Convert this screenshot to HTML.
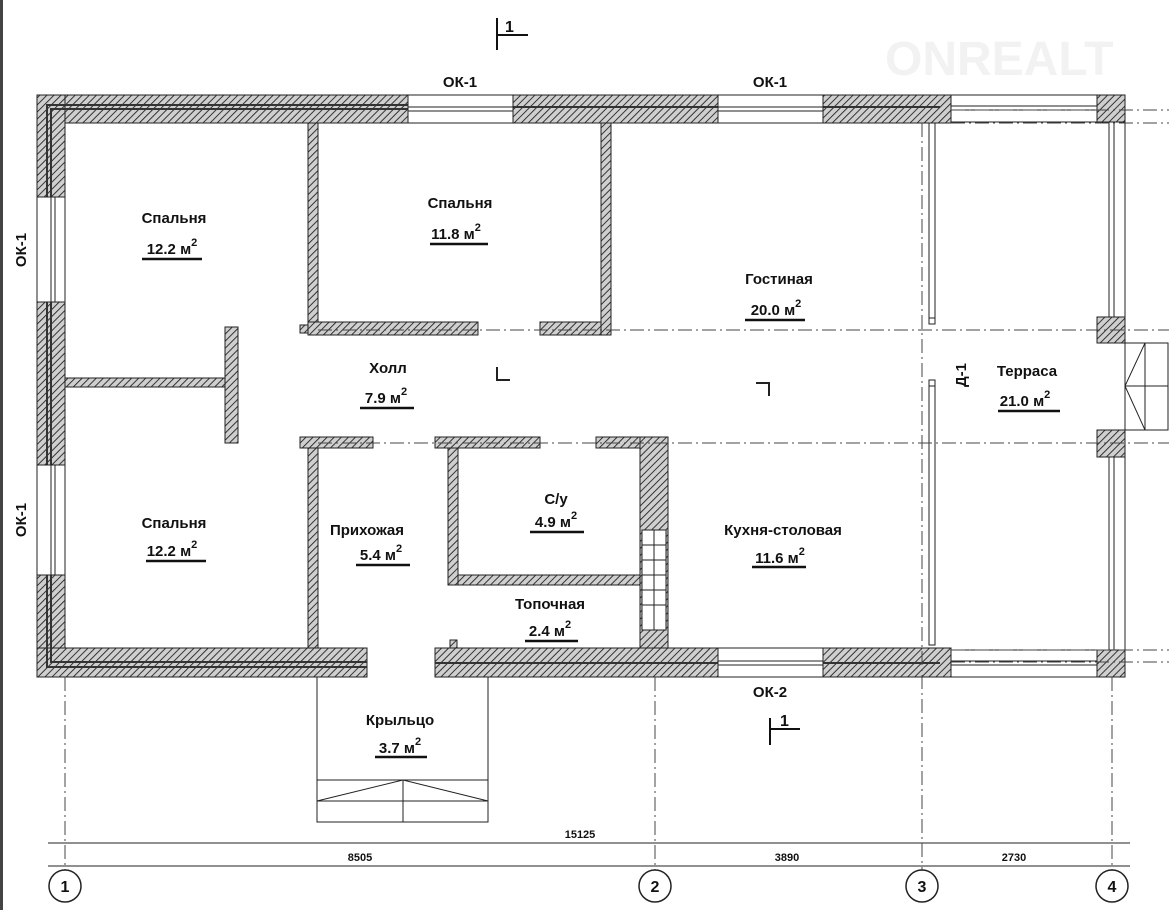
<!DOCTYPE html>
<html><head><meta charset="utf-8"><style>
body{margin:0;background:#fff}
svg{display:block}
text{font-family:"Liberation Sans",sans-serif;font-weight:bold;fill:#111}
</style></head><body>
<svg width="1169" height="910" viewBox="0 0 1169 910" xmlns="http://www.w3.org/2000/svg">
<defs>
<pattern id="h" width="5" height="5" patternUnits="userSpaceOnUse" patternTransform="rotate(45)">
<rect width="5" height="5" fill="#cfcfcf"/><line x1="0" y1="0" x2="0" y2="5" stroke="#222" stroke-width="1.8"/></pattern>
</defs>
<rect x="0" y="0" width="3" height="910" fill="#444"/>
<text x="885" y="75" font-size="48" style="fill:#f2f2f2">ONREALT</text>
<g stroke="#222" stroke-width="1">
<g fill="url(#h)">
<rect x="37" y="95" width="371" height="28"/>
<rect x="513" y="95" width="205" height="28"/>
<rect x="823" y="95" width="128" height="28"/>
<rect x="37" y="95" width="28" height="102"/>
<rect x="37" y="302" width="28" height="163"/>
<rect x="37" y="575" width="28" height="102"/>
<rect x="37" y="648" width="330" height="29"/>
<rect x="435" y="648" width="283" height="29"/>
<rect x="823" y="648" width="128" height="29"/>
<rect x="308" y="123" width="10" height="212"/>
<rect x="308" y="322" width="170" height="13"/>
<rect x="300" y="325" width="8" height="8"/>
<rect x="540" y="322" width="71" height="13"/>
<rect x="601" y="123" width="10" height="212"/>
<rect x="65" y="378" width="160" height="9"/>
<rect x="225" y="327" width="13" height="116"/>
<rect x="300" y="437" width="73" height="11"/>
<rect x="435" y="437" width="105" height="11"/>
<rect x="596" y="437" width="72" height="11"/>
<rect x="308" y="448" width="10" height="200"/>
<rect x="448" y="448" width="10" height="137"/>
<rect x="458" y="575" width="182" height="10"/>
<rect x="640" y="437" width="28" height="211"/>
<rect x="450" y="640" width="7" height="8"/>
<rect x="1097" y="95" width="28" height="27"/>
<rect x="1097" y="317" width="28" height="26"/>
<rect x="1097" y="430" width="28" height="27"/>
<rect x="1097" y="650" width="28" height="27"/>
</g>
<!-- wall layer lines -->
<g fill="none" stroke="#333" stroke-width="2">
<polyline points="408,105 47,105 47,197"/><polyline points="408,109 51,109 51,197"/>
<line x1="513" y1="107" x2="718" y2="107"/><line x1="823" y1="107" x2="940" y2="107"/>
<line x1="47" y1="302" x2="47" y2="465"/><line x1="51" y1="302" x2="51" y2="465"/>
<polyline points="47,575 47,667 367,667"/><polyline points="51,575 51,662 367,662"/>
<line x1="435" y1="663" x2="718" y2="663"/><line x1="823" y1="663" x2="940" y2="663"/>
</g>
<g fill="#fff"><rect x="642" y="530" width="24" height="100"/></g>
<g fill="none">
<line x1="642" y1="545" x2="666" y2="545"/><line x1="642" y1="560" x2="666" y2="560"/><line x1="642" y1="575" x2="666" y2="575"/><line x1="642" y1="590" x2="666" y2="590"/><line x1="642" y1="605" x2="666" y2="605"/>
<line x1="654" y1="530" x2="654" y2="630"/>
<rect x="408" y="95" width="105" height="28"/><line x1="408" y1="107" x2="513" y2="107"/><line x1="408" y1="111" x2="513" y2="111"/>
<rect x="718" y="95" width="105" height="28"/><line x1="718" y1="107" x2="823" y2="107"/><line x1="718" y1="111" x2="823" y2="111"/>
<rect x="37" y="197" width="28" height="105"/><line x1="51" y1="197" x2="51" y2="302"/><line x1="55" y1="197" x2="55" y2="302"/>
<rect x="37" y="465" width="28" height="110"/><line x1="51" y1="465" x2="51" y2="575"/><line x1="55" y1="465" x2="55" y2="575"/>
<rect x="718" y="648" width="105" height="29"/><line x1="718" y1="661" x2="823" y2="661"/><line x1="718" y1="665" x2="823" y2="665"/>
<rect x="951" y="95" width="146" height="27"/><line x1="951" y1="106" x2="1097" y2="106"/><line x1="951" y1="110" x2="1097" y2="110"/>
<rect x="951" y="650" width="146" height="27"/><line x1="951" y1="661" x2="1097" y2="661"/><line x1="951" y1="665" x2="1097" y2="665"/>
<line x1="1125" y1="122" x2="1125" y2="650"/>
<rect x="1109" y="122" width="5" height="195"/><rect x="1109" y="457" width="5" height="193"/>
<rect x="929" y="123" width="6" height="195"/><rect x="929" y="318" width="6" height="6"/>
<rect x="929" y="380" width="6" height="265"/><rect x="929" y="380" width="6" height="6"/>
<rect x="1125" y="343" width="43" height="87"/><line x1="1125" y1="386" x2="1168" y2="386"/><line x1="1145" y1="343" x2="1145" y2="430"/>
<polyline points="1145,343 1125,386 1145,430"/>
<polyline points="317,677 317,822 488,822 488,677"/>
<line x1="317" y1="780" x2="488" y2="780"/><line x1="317" y1="801" x2="488" y2="801"/>
<line x1="403" y1="780" x2="403" y2="822"/>
<polyline points="317,801 403,780 488,801"/>
<polyline points="497,367 497,380 510,380" stroke-width="2"/>
<polyline points="756,383 769,383 769,396" stroke-width="2"/>
<line x1="48" y1="843" x2="1130" y2="843"/>
<line x1="48" y1="866" x2="1130" y2="866"/>
</g>
</g>
<g stroke="#444" stroke-width="1" stroke-dasharray="14,4,2,4" fill="none">
<line x1="65" y1="677" x2="65" y2="872"/>
<line x1="655" y1="677" x2="655" y2="872"/>
<line x1="922" y1="123" x2="922" y2="872"/>
<line x1="1112" y1="677" x2="1112" y2="872"/>
<line x1="951" y1="110" x2="1169" y2="110"/>
<line x1="951" y1="123" x2="1169" y2="123"/>
<line x1="318" y1="330" x2="1169" y2="330"/>
<line x1="318" y1="443" x2="1169" y2="443"/>
<line x1="951" y1="650" x2="1169" y2="650"/>
<line x1="951" y1="662" x2="1169" y2="662"/>
</g>
<g stroke="#222" stroke-width="1.5" fill="#fff">
<circle cx="65" cy="886" r="16"/><circle cx="655" cy="886" r="16"/><circle cx="922" cy="886" r="16"/><circle cx="1112" cy="886" r="16"/>
</g>
<g font-size="16" text-anchor="middle">
<text x="65" y="892">1</text><text x="655" y="892">2</text><text x="922" y="892">3</text><text x="1112" y="892">4</text>
</g>
<g font-size="11" text-anchor="middle">
<text x="580" y="838">15125</text><text x="360" y="861">8505</text><text x="787" y="861">3890</text><text x="1014" y="861">2730</text>
</g>
<g stroke="#111" stroke-width="2" fill="none">
<line x1="497" y1="18" x2="497" y2="50"/><line x1="497" y1="35" x2="528" y2="35"/>
<line x1="770" y1="718" x2="770" y2="745"/><line x1="770" y1="729" x2="800" y2="729"/>
</g>
<text x="505" y="32" font-size="16">1</text>
<text x="780" y="726" font-size="16">1</text>
<g font-size="15" text-anchor="middle">
<text x="460" y="87">ОК-1</text><text x="770" y="87">ОК-1</text><text x="770" y="697">ОК-2</text>
<text transform="translate(26,250) rotate(-90)">ОК-1</text>
<text transform="translate(26,520) rotate(-90)">ОК-1</text>
<text transform="translate(966,375) rotate(-90)">Д-1</text>
</g>
<g font-size="15" text-anchor="middle">
<text x="174" y="223">Спальня</text>
<text x="460" y="208">Спальня</text>
<text x="779" y="284">Гостиная</text>
<text x="388" y="373">Холл</text>
<text x="1027" y="376">Терраса</text>
<text x="174" y="528">Спальня</text>
<text x="556" y="504">С/у</text>
<text x="367" y="535">Прихожая</text>
<text x="783" y="535">Кухня-столовая</text>
<text x="550" y="609">Топочная</text>
<text x="400" y="725">Крыльцо</text>
</g>
<g font-size="15" text-anchor="middle">
<text x="172" y="254">12.2 м<tspan font-size="11" dy="-8">2</tspan></text>
<text x="456" y="239">11.8 м<tspan font-size="11" dy="-8">2</tspan></text>
<text x="776" y="315">20.0 м<tspan font-size="11" dy="-8">2</tspan></text>
<text x="386" y="403">7.9 м<tspan font-size="11" dy="-8">2</tspan></text>
<text x="1025" y="406">21.0 м<tspan font-size="11" dy="-8">2</tspan></text>
<text x="172" y="556">12.2 м<tspan font-size="11" dy="-8">2</tspan></text>
<text x="556" y="527">4.9 м<tspan font-size="11" dy="-8">2</tspan></text>
<text x="381" y="560">5.4 м<tspan font-size="11" dy="-8">2</tspan></text>
<text x="780" y="563">11.6 м<tspan font-size="11" dy="-8">2</tspan></text>
<text x="550" y="636">2.4 м<tspan font-size="11" dy="-8">2</tspan></text>
<text x="400" y="753">3.7 м<tspan font-size="11" dy="-8">2</tspan></text>
</g>
<g stroke="#111" stroke-width="2.5">
<line x1="142" y1="259" x2="202" y2="259"/><line x1="430" y1="244" x2="488" y2="244"/>
<line x1="745" y1="320" x2="805" y2="320"/><line x1="360" y1="408" x2="414" y2="408"/>
<line x1="998" y1="411" x2="1060" y2="411"/><line x1="146" y1="561" x2="206" y2="561"/>
<line x1="530" y1="532" x2="584" y2="532"/><line x1="356" y1="565" x2="410" y2="565"/>
<line x1="752" y1="567" x2="806" y2="567"/><line x1="525" y1="641" x2="578" y2="641"/>
<line x1="375" y1="757" x2="427" y2="757"/>
</g>
</svg>
</body></html>
